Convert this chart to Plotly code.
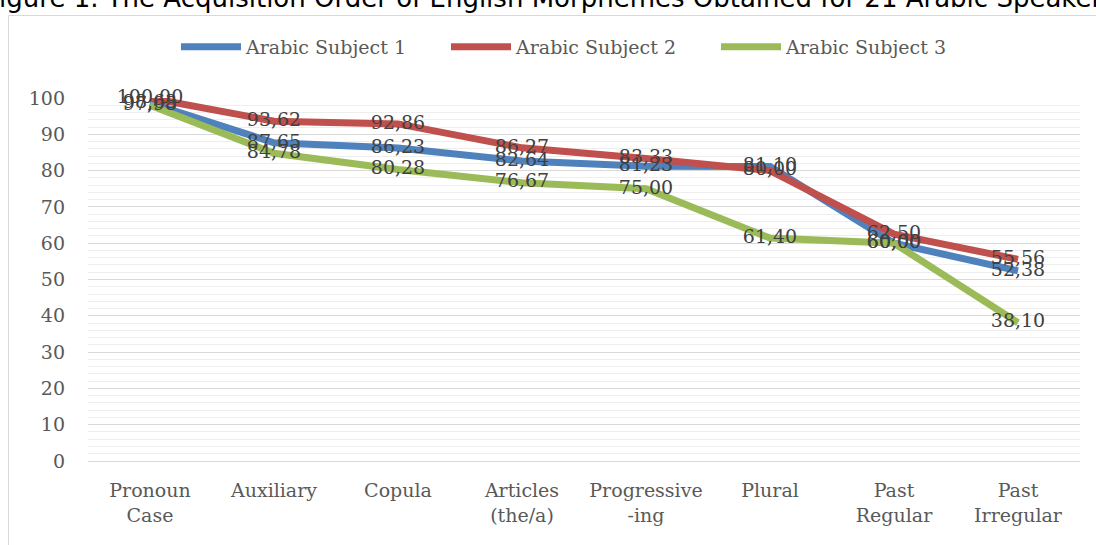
import plotly.graph_objects as go

categories = ["Pronoun<br>Case", "Auxiliary", "Copula", "Articles<br>(the/a)",
              "Progressive<br>-ing", "Plural", "Past<br>Regular", "Past<br>Irregular"]
subject1 = [98.63, 87.65, 86.23, 82.64, 81.23, 81.10, 60.00, 52.38]
subject2 = [100.00, 93.62, 92.86, 86.27, 83.33, 80.00, 62.50, 55.56]
subject3 = [97.98, 84.78, 80.28, 76.67, 75.00, 61.40, 60.00, 38.10]
names = ["Arabic Subject 1", "Arabic Subject 2", "Arabic Subject 3"]
colors = ["#4F81BD", "#C0504D", "#9BBB59"]
series = [subject1, subject2, subject3]

W, H = 1096, 545
L, R, T, B = 88, 1080, 98, 461

def px(xp):
    return (xp - L) / (R - L)

def py(yp):
    return (B - yp) / (B - T)

fig = go.Figure()
for vals, name, col in zip(series, names, colors):
    fig.add_trace(go.Scatter(x=list(range(len(categories))), y=vals, name=name, mode="lines",
                             line=dict(color=col, width=7), cliponaxis=False))
for vals in series:
    fig.add_trace(go.Scatter(x=list(range(len(categories))), y=vals, mode="text",
                             text=[f"{v:.2f}".replace(".", ",") for v in vals],
                             textposition="middle center",
                             textfont=dict(family="DejaVu Serif", size=19, color="#404040"),
                             showlegend=False, hoverinfo="skip", cliponaxis=False))

fig.update_layout(
    width=W, height=H,
    margin=dict(l=L, r=W - R, t=T, b=H - B),
    paper_bgcolor="white", plot_bgcolor="white",
    font=dict(family="DejaVu Serif", size=19, color="#595959"),
    showlegend=True,
    legend=dict(orientation="h", x=px(176), xanchor="left", y=py(47), yanchor="middle",
                font=dict(family="DejaVu Serif", size=19, color="#595959"),
                entrywidth=195, itemwidth=60, bgcolor="rgba(0,0,0,0)"),
    xaxis=dict(range=[-0.5, len(categories) - 0.5], tickmode="array",
               tickvals=list(range(len(categories))), ticktext=categories,
               showgrid=False, zeroline=False, showline=False, ticks="",
               ticklabelstandoff=16,
               tickfont=dict(family="DejaVu Serif", size=19, color="#595959")),
    yaxis=dict(range=[0, 100], dtick=10, showgrid=True, gridcolor="#d9d9d9", gridwidth=1,
               zeroline=True, zerolinecolor="#d9d9d9", zerolinewidth=1,
               ticks="", ticklabelstandoff=22,
               tickfont=dict(family="DejaVu Serif", size=19, color="#595959")),
    shapes=[dict(type="rect", xref="paper", yref="paper",
                 x0=px(8.5), x1=px(1110), y0=py(560), y1=py(15.5),
                 line=dict(color="#d9d9d9", width=1), fillcolor="rgba(0,0,0,0)", layer="below")],
    annotations=[dict(text="Figure 1. The Acquisition Order of English Morphemes Obtained for 21 Arabic Speakers",
                      xref="paper", yref="paper", x=px(-16), y=py(-2), xanchor="left", yanchor="middle",
                      showarrow=False, font=dict(family="DejaVu Sans", size=26, color="#000000"))],
)
fig.update_yaxes(minor=dict(dtick=2, showgrid=True, gridcolor="#eeeeee", gridwidth=1))

fig.write_html("out.html", config={"displayModeBar": False},
               post_script="document.body.style.margin='0';document.body.style.overflow='hidden';")
